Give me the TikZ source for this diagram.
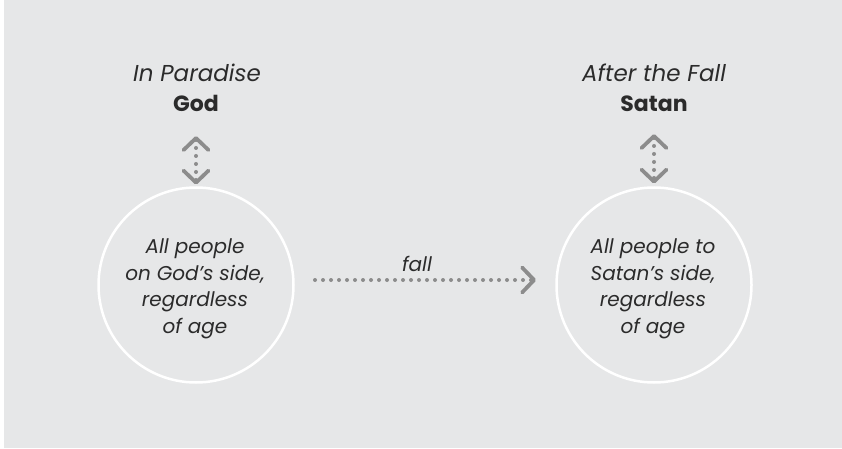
\documentclass[tikz,border=0pt]{standalone}
\usepackage{fontspec}
\setmainfont{Poppins}
\usetikzlibrary{arrows.meta}
\definecolor{bg}{HTML}{E6E7E8}
\definecolor{ink}{HTML}{2B2B2B}
\definecolor{arr}{HTML}{8C8C8C}
\tikzset{
  ttl/.style={anchor=base, inner sep=0pt, outer sep=0pt, text=ink, font=\fontsize{23}{26}\selectfont\itshape},
  boss/.style={anchor=base, inner sep=0pt, outer sep=0pt, text=ink, font=\fontsize{22}{26}\selectfont\bfseries},
  ring/.style={circle, draw=white, line width=2.5pt, minimum size=195pt, inner sep=0pt, outer sep=0pt},
  ctext/.style={align=center, inner sep=0pt, text=ink, font=\fontsize{20}{26.5}\selectfont\itshape},
  dotline/.style={draw=arr, line width=4pt, line cap=round, dash pattern=on 0pt off 8pt},
  chev/.tip={Straight Barb[length=12pt, width=25pt, line width=3.8pt, round]},
}
\begin{document}
\begin{tikzpicture}[x=1pt,y=-1pt]
\useasboundingbox (0,0) rectangle (842,449);
\fill[white] (0,0) rectangle (842,449);
\fill[bg] (4,0) rectangle (842,448);

\node[ttl] (p1) at (197,82) {In Paradise};
\node[boss] (g) at (196,112) {God};
\node[ttl] (p2) at (654,82) {After the Fall};
\node[boss] (s) at (654,112) {Satan};

\node[ring] (c1) at (196,285) {};
\node[ring] (c2) at (654,285) {};
\node[ctext] (t1) at (195,289) {All people\\on God’s side,\\regardless\\of age};
\node[ctext] (t2) at (653,289) {All people to\\Satan’s side,\\regardless\\of age};

\draw[dotline, chev-chev, shorten <=24pt, shorten >=3pt] (g.south) -- (c1.north);
\draw[dotline, chev-chev, shorten <=22pt, shorten >=4pt] (s.south) -- (c2.north);
\draw[dotline, -chev, shorten <=21.5pt, shorten >=20.5pt] ([yshift=5pt]c1.east) -- ([yshift=5pt]c2.west);
\node[anchor=base, inner sep=0pt, text=ink, font=\fontsize{20}{22}\selectfont\itshape] (f) at (417,271) {fall};
\end{tikzpicture}
\end{document}
